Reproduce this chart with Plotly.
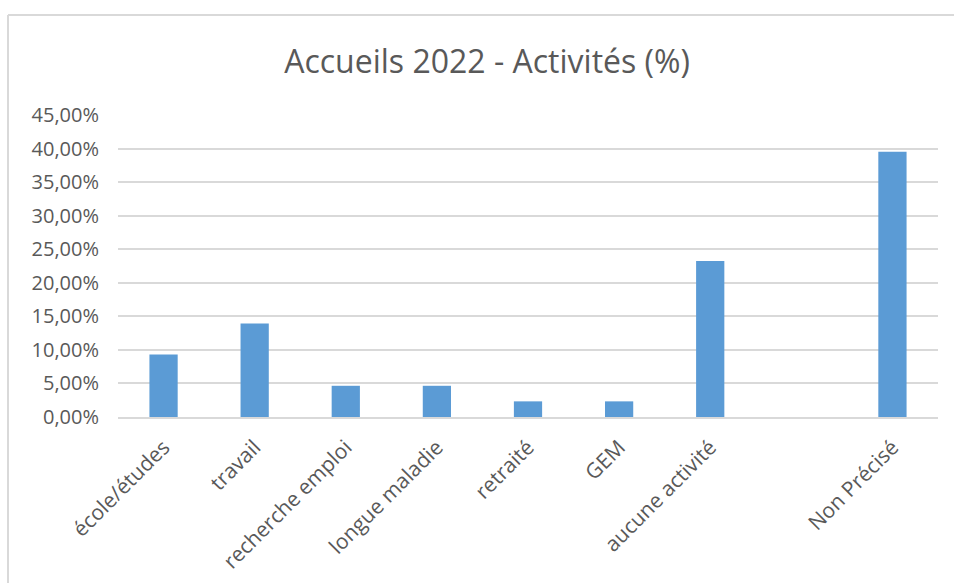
import plotly.graph_objects as go

categories = ["école/études", "travail", "recherche emploi", "longue maladie",
              "retraité", "GEM", "aucune activité", " ", "Non Précisé"]
values = [0.0930, 0.1395, 0.0465, 0.0465, 0.0233, 0.0233, 0.2326, 0.0, 0.3953]
tick_values = [0, 0.05, 0.10, 0.15, 0.20, 0.25, 0.30, 0.35, 0.40, 0.45]

W, H = 955, 583
L, R, T, B = 118, 17, 115, 166
pw = W - L - R
ph = H - T - B

fig = go.Figure(go.Bar(
    x=categories, y=values,
    marker=dict(color="#5b9bd5", line=dict(width=0)),
    hoverinfo="x+y",
))

font_family = "'Open Sans', Lato, sans-serif"

fig.update_layout(
    width=W, height=H,
    margin=dict(l=L, r=R, t=T, b=B),
    paper_bgcolor="white", plot_bgcolor="white",
    separators=", ",
    bargap=0.69,
    showlegend=False,
    title=dict(text="Accueils 2022 - Activités (%)", x=0.51, xref="container",
               y=1 - 62 / H, yref="container", yanchor="middle", xanchor="center",
               font=dict(family=font_family, size=32, color="#595959")),
    font=dict(family=font_family, size=20, color="#595959"),
)

fig.update_yaxes(
    range=[0, 0.45], tickvals=tick_values, tickformat=".2%",
    showgrid=True, gridcolor="#d9d9d9", gridwidth=1.5,
    zeroline=False, showline=False, ticks="", ticklen=0,
    ticklabelstandoff=18, automargin=False,
    tickfont=dict(size=20, color="#595959"),
)
fig.update_xaxes(
    tickangle=-45, showline=True, linecolor="#d9d9d9", linewidth=1.5,
    showgrid=False, ticks="", ticklabelstandoff=8, automargin=False,
    tickfont=dict(size=21, color="#595959"),
)

# chart frame (left and top edges)
x_left = (8 - L) / pw
x_right = (954 - L) / pw
y_top = (H - B - 15) / ph
y_bot = (H - B - 583) / ph
fig.add_shape(type="line", xref="paper", yref="paper", x0=x_left, x1=x_left,
              y0=y_bot, y1=y_top, line=dict(color="#d9d9d9", width=2))
fig.add_shape(type="line", xref="paper", yref="paper", x0=x_left, x1=x_right,
              y0=y_top, y1=y_top, line=dict(color="#d9d9d9", width=2))

fig.write_html("out.html", config={"displayModeBar": False},
               post_script="document.body.style.margin='0';")
